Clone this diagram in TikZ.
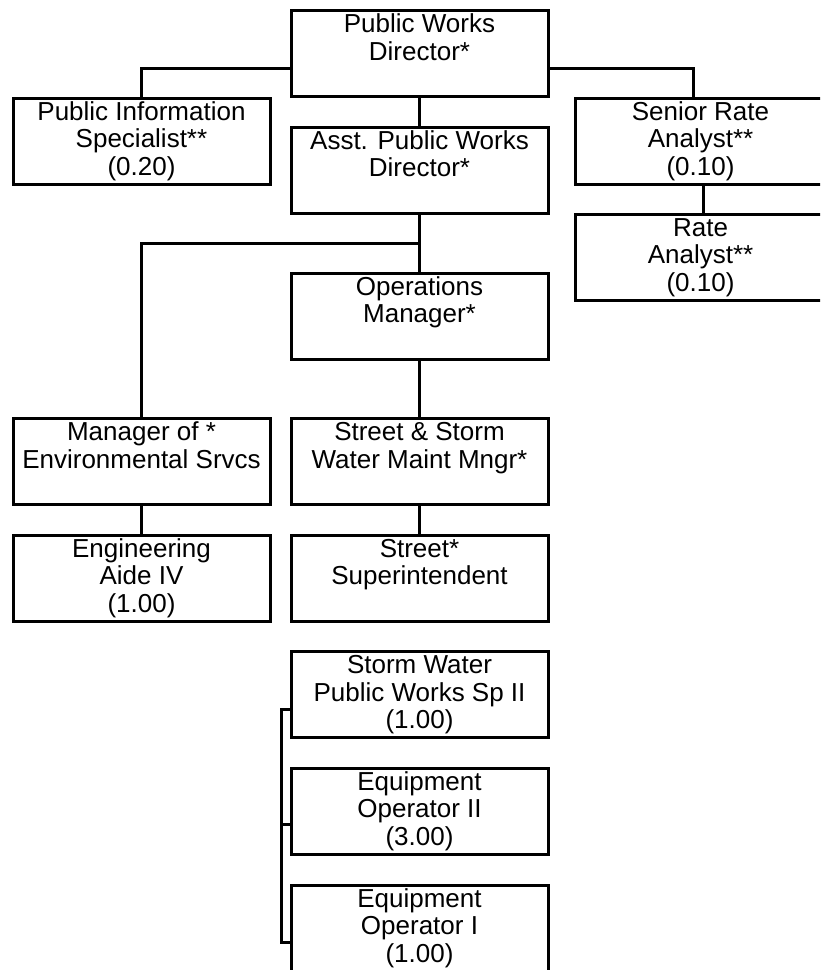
\documentclass[tikz,border=0pt]{standalone}
\usepackage{fontspec}
\setmainfont{Liberation Sans}
\begin{document}
\begin{tikzpicture}[x=1pt, y=-1pt,
  box/.style={draw=black, line width=3pt, minimum width=257pt, minimum height=86pt,
              inner sep=0pt, outer sep=0pt},
  lbl/.style={anchor=north, align=center, inner sep=0pt, yshift=-2.75pt,
              font=\fontsize{26}{27.5}\selectfont},
  link/.style={draw=black, line width=3pt}]
\useasboundingbox (0,0) rectangle (820,970);
\clip (0,0) rectangle (820,970);
\fill[white] (0,0) rectangle (820,970);

% boxes
\node[box] (pwd)   at (419.5, 53.5) {};
\node[box] (pis)   at (141.5,141)   {};
\node[box] (asst)  at (419.5,170)   {};
\node[box] (sra)   at (703.5,141)   {};
\node[box] (ra)    at (703.5,257)   {};
\node[box] (ops)   at (419.5,316)   {};
\node[box] (env)   at (141.5,461.5) {};
\node[box] (ssw)   at (419.5,461.5) {};
\node[box] (eng)   at (141.5,578)   {};
\node[box] (supt)  at (419.5,578)   {};
\node[box] (storm) at (419.5,694.5) {};
\node[box] (eq2)   at (419.5,811)   {};
\node[box] (eq1)   at (419.5,928)   {};

% titles
\node[lbl] (pwd-t)   at (pwd.north)   {\strut Public Works\\Director*};
\node[lbl] (pis-t)   at (pis.north)   {\strut Public Information\\Specialist**\\(0.20)};
\node[lbl] (asst-t)  at (asst.north)  {\strut Asst. Public Works\\Director*};
\node[lbl] (sra-t)   at ([xshift=-3pt]sra.north) {\strut Senior Rate\\Analyst**\\(0.10)};
\node[lbl] (ra-t)    at ([xshift=-3pt]ra.north)  {\strut Rate\\Analyst**\\(0.10)};
\node[lbl] (ops-t)   at (ops.north)   {\strut Operations\\Manager*};
\node[lbl] (env-t)   at (env.north)   {\strut Manager of *\\Environmental Srvcs};
\node[lbl] (ssw-t)   at (ssw.north)   {\strut Street \& Storm\\Water Maint Mngr*};
\node[lbl] (eng-t)   at (eng.north)   {\strut Engineering\\Aide IV\\(1.00)};
\node[lbl] (supt-t)  at (supt.north)  {\strut Street*\\Superintendent};
\node[lbl] (storm-t) at (storm.north) {\strut Storm Water\\Public Works Sp II\\(1.00)};
\node[lbl] (eq2-t)   at (eq2.north)   {\strut Equipment\\Operator II\\(3.00)};
\node[lbl] (eq1-t)   at (eq1.north)   {\strut Equipment\\Operator I\\(1.00)};

% connectors
\draw[link] (pwd.west) ++(0,14.5) -| (pis.north);
\draw[link] (pwd.east) ++(0,14.5) -| ([xshift=-10.5pt]sra.north);
\draw[link] (pwd) -- (asst);
\draw[link] (sra) -- (ra);
\draw[link] (asst) -- (ops);
\draw[link] (asst.south) ++(0,30) -| (env.north);
\draw[link] (ops) -- (ssw);
\draw[link] (env) -- (eng);
\draw[link] (ssw) -- (supt);
\draw[link] ([yshift=-14.5pt]storm.west) -- ++(-10,0) |- ([yshift=-14.5pt]eq1.west);
\draw[link] ([yshift=-13pt]eq2.west) -- ++(-10,0);
\end{tikzpicture}
\end{document}
